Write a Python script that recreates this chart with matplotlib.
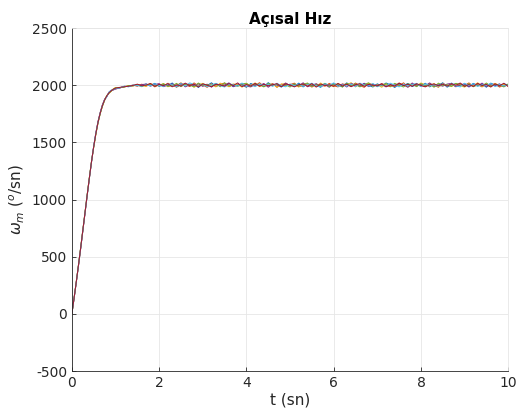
import matplotlib
matplotlib.use("Agg")
import matplotlib.pyplot as plt

plt.rcParams['axes.unicode_minus'] = False

# zaman (sn)
t_rise = [0.0, 0.05, 0.1, 0.15, 0.2, 0.25, 0.3, 0.35, 0.4, 0.45, 0.5,
          0.55, 0.6, 0.65, 0.7, 0.75, 0.8, 0.85, 0.9, 0.95, 1.0]
t_steady = [1.1, 1.2, 1.3, 1.4, 1.5, 1.6, 1.7, 1.8, 1.9, 2.0,
            2.1, 2.2, 2.3, 2.4, 2.5, 2.6, 2.7, 2.8, 2.9, 3.0,
            3.1, 3.2, 3.3, 3.4, 3.5, 3.6, 3.7, 3.8, 3.9, 4.0,
            4.1, 4.2, 4.3, 4.4, 4.5, 4.6, 4.7, 4.8, 4.9, 5.0,
            5.1, 5.2, 5.3, 5.4, 5.5, 5.6, 5.7, 5.8, 5.9, 6.0,
            6.1, 6.2, 6.3, 6.4, 6.5, 6.6, 6.7, 6.8, 6.9, 7.0,
            7.1, 7.2, 7.3, 7.4, 7.5, 7.6, 7.7, 7.8, 7.9, 8.0,
            8.1, 8.2, 8.3, 8.4, 8.5, 8.6, 8.7, 8.8, 8.9, 9.0,
            9.1, 9.2, 9.3, 9.4, 9.5, 9.6, 9.7, 9.8, 9.9, 10.0]

# yükselme kısmı (her koşu için)
r1 = [0, 135, 275, 420, 570, 725, 880, 1035, 1185, 1330, 1460,
      1575, 1675, 1755, 1820, 1870, 1905, 1932, 1950, 1963, 1972]
r2 = [0, 134, 273, 418, 567, 722, 877, 1032, 1182, 1328, 1462,
      1580, 1681, 1760, 1826, 1874, 1901, 1936, 1955, 1960, 1968]
r3 = [0, 136, 277, 422, 573, 728, 883, 1038, 1188, 1332, 1455,
      1570, 1670, 1750, 1814, 1866, 1910, 1928, 1946, 1968, 1980]
r4 = [0, 133, 272, 417, 566, 721, 876, 1031, 1181, 1327, 1464,
      1582, 1684, 1762, 1828, 1876, 1900, 1938, 1953, 1958, 1966]
r5 = [0, 137, 278, 424, 575, 730, 885, 1040, 1190, 1334, 1458,
      1572, 1672, 1752, 1816, 1868, 1908, 1930, 1947, 1966, 1977]
r6 = [0, 134, 274, 419, 568, 723, 878, 1033, 1183, 1329, 1466,
      1584, 1678, 1758, 1824, 1873, 1898, 1940, 1956, 1961, 1970]
r7 = [0, 135, 276, 421, 571, 726, 881, 1036, 1186, 1331, 1461,
      1577, 1676, 1756, 1821, 1871, 1906, 1933, 1951, 1964, 1974]

# kalıcı durum değerleri (°/sn)
w1 = [1978, 1987, 1990, 1996, 2004, 1993, 2011, 1998, 2016, 1989,
      2007, 1995, 2019, 1984, 2003, 2012, 1991, 2008, 1980, 2014,
      1997, 2021, 1988, 2005, 1993, 2017, 1986, 2010, 2002, 1982,
      2015, 1999, 2009, 1987, 2022, 1994, 2006, 1983, 2013, 2000,
      1990, 2018, 1985, 2011, 1996, 2004, 1981, 2016, 1992, 2009,
      2001, 1986, 2020, 1995, 2007, 1989, 2014, 1998, 1984, 2012,
      1993, 2019, 2003, 1980, 2010, 1997, 2015, 1988, 2006, 1991,
      2017, 1985, 2008, 1999, 2021, 1983, 2002, 2013, 1994, 2005,
      1987, 2016, 1996, 2009, 1982, 2018, 2000, 1990, 2011, 2003]
w2 = [1975, 1989, 1993, 2001, 1991, 2009, 1996, 2013, 1985, 2004,
      1992, 2017, 1999, 1983, 2010, 2006, 1988, 2020, 1995, 2002,
      1981, 2012, 1990, 2008, 2019, 1986, 2003, 1997, 2015, 1984,
      2007, 1993, 2022, 1989, 2000, 2014, 1982, 2010, 1998, 2005,
      2018, 1987, 1996, 2012, 1983, 2009, 2001, 1991, 2016, 1994,
      1985, 2011, 2004, 1990, 2019, 1997, 1981, 2013, 2006, 1988,
      2015, 1999, 1986, 2008, 1993, 2021, 1984, 2003, 2010, 1996,
      1989, 2014, 2000, 1982, 2017, 1995, 2007, 1987, 2012, 1998,
      2020, 1991, 2005, 1985, 2010, 1997, 2016, 1983, 2002, 1994]
w3 = [1980, 1984, 1995, 1992, 2007, 1999, 1988, 2012, 2003, 1994,
      2015, 1986, 2005, 1997, 2021, 1990, 2010, 1982, 2001, 2016,
      1993, 2007, 1985, 2018, 1999, 1989, 2011, 2004, 1983, 2014,
      1996, 2020, 1987, 2003, 1992, 2012, 1981, 2008, 2017, 1995,
      2002, 1984, 2014, 1998, 2009, 1988, 2019, 1993, 2006, 1986,
      2013, 1997, 2003, 2022, 1985, 2008, 1994, 2016, 1990, 2005,
      1982, 2011, 1998, 1989, 2018, 2001, 1987, 2010, 1995, 2019,
      2004, 1991, 2015, 1984, 2006, 2000, 1988, 2012, 1997, 1983,
      2009, 1996, 2021, 1990, 2002, 1986, 2014, 1999, 2007, 1992]
w4 = [1977, 1990, 1988, 1999, 1995, 2005, 2010, 1991, 2006, 2014,
      1987, 2000, 2011, 1993, 2018, 1985, 2004, 1996, 2013, 1989,
      2009, 1983, 2016, 1995, 2002, 2020, 1988, 1998, 2012, 1991,
      1985, 2006, 1997, 2015, 1982, 2010, 2001, 1990, 2019, 1994,
      2007, 1993, 2021, 1986, 2000, 2013, 1989, 2004, 1982, 2016,
      1996, 2009, 1984, 2014, 2002, 1991, 2017, 1987, 2008, 1999,
      2011, 1985, 2006, 1995, 2014, 2003, 1982, 2019, 1992, 2007,
      1996, 2020, 1988, 2003, 1991, 2010, 2016, 1986, 2001, 2013,
      1984, 2007, 1993, 2018, 1989, 2005, 1995, 2012, 1987, 2008]
w5 = [1979, 1983, 1997, 1994, 2002, 1987, 2004, 2008, 1993, 2000,
      2012, 1990, 1994, 2016, 1987, 2008, 2001, 1985, 2019, 1997,
      2004, 1992, 2013, 1986, 2021, 1994, 2005, 1989, 2010, 2017,
      1990, 2013, 2004, 1985, 2016, 1998, 2009, 1991, 2003, 1984,
      2012, 1995, 2007, 2019, 1989, 2002, 1996, 2015, 1986, 2010,
      2007, 1983, 2016, 1998, 2012, 1985, 2004, 2021, 1993, 2000,
      1997, 2013, 1989, 2016, 2000, 1984, 2011, 2006, 1987, 2014,
      1992, 2009, 1982, 2018, 1997, 2004, 1990, 2016, 2006, 1988,
      2013, 1986, 2002, 1994, 2019, 1991, 2008, 2003, 1985, 2011]
w6 = [1976, 1992, 1985, 2002, 1998, 1990, 2006, 1994, 2012, 1997,
      1990, 2010, 2003, 1988, 2014, 1993, 2020, 2005, 1991, 2008,
      1987, 2002, 2015, 1996, 1984, 2010, 2006, 1992, 2019, 1988,
      2003, 1987, 2010, 1999, 2008, 1990, 2017, 1996, 1986, 2011,
      1995, 2009, 1990, 2005, 2017, 1994, 1985, 2012, 2000, 2020,
      1989, 2003, 1992, 2010, 1987, 2018, 2001, 1993, 2015, 1986,
      2004, 1990, 2017, 2002, 1985, 2009, 1994, 2005, 2016, 1988,
      2011, 1997, 2005, 1990, 2013, 1986, 2019, 1993, 1985, 2017,
      1996, 2012, 1989, 2004, 1998, 2015, 1987, 2006, 1994, 2000]
w7 = [1981, 1986, 1991, 1998, 2009, 1995, 2001, 2015, 1990, 2007,
      1996, 2013, 1986, 2004, 1992, 2018, 1997, 2009, 1984, 2011,
      2000, 1986, 2008, 2002, 1991, 2014, 1997, 2020, 1987, 2006,
      1992, 2016, 1991, 2008, 1995, 2003, 2014, 1987, 2011, 2002,
      1985, 2005, 2010, 1990, 2014, 1983, 2010, 1998, 2003, 1990,
      2016, 1992, 2009, 1987, 2003, 2013, 1989, 2007, 2000, 1994,
      2010, 1987, 2003, 1991, 2019, 1996, 2008, 1990, 2013, 1998,
      1985, 2003, 2011, 1995, 2009, 1991, 2014, 1999, 2019, 1990,
      2005, 1989, 2016, 1997, 2006, 1984, 2011, 1995, 2017, 1988]

rises = [r1, r2, r3, r4, r5, r6, r7]
runs = [w1, w2, w3, w4, w5, w6, w7]
colors = ['#0072BD', '#D95319', '#EDB120', '#7E2F8E', '#77AC30', '#4DBEEE', '#A2142F']

fig = plt.figure(figsize=(5.17, 4.12), dpi=100)
ax = fig.add_axes([0.139, 0.0995, 0.844, 0.8325])

t = t_rise + t_steady
for r, w, c in zip(rises, runs, colors):
    ax.plot(t, r + w, color=c, lw=0.7)

ax.set_xlim(0, 10)
ax.set_ylim(-500, 2500)
ax.set_xticks([0, 2, 4, 6, 8, 10])
ax.set_yticks([-500, 0, 500, 1000, 1500, 2000, 2500])
ax.grid(True, color='#e6e6e6', lw=0.6)
ax.set_axisbelow(True)
ax.tick_params(direction='in', length=3, labelsize=10, colors='#262626', width=0.6)
for s in ['left', 'bottom']:
    ax.spines[s].set_color('#262626')
    ax.spines[s].set_linewidth(0.6)
for s in ['top', 'right']:
    ax.spines[s].set_color('#e6e6e6')
    ax.spines[s].set_linewidth(0.6)

ax.set_title('Açısal Hız', fontsize=11, fontweight='bold', pad=3)
ax.set_xlabel('t (sn)', fontsize=11, color='#262626', labelpad=2)
ax.set_ylabel(r'$\omega_m$ ($^o$/sn)', fontsize=11, color='#262626', labelpad=4)

fig.savefig('out.png', dpi=100)
